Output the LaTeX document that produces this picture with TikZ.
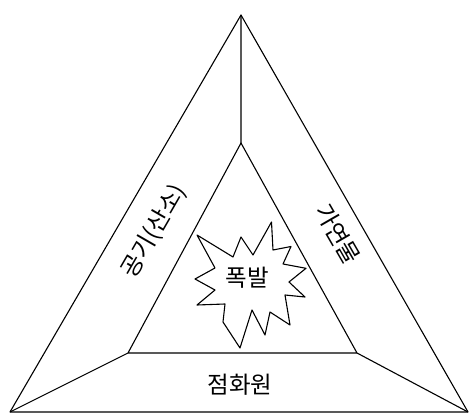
\documentclass[tikz,border=0pt]{standalone}
\usepackage{fontspec}
\newfontfamily\kr{Noto Sans CJK KR}
\begin{document}
\begin{tikzpicture}[x=1pt,y=-1pt,
  edge/.style={line width=1.1pt, line join=round},
  lbl/.style={font=\kr\fontsize{23.5}{28}\selectfont, inner sep=0pt}]
\useasboundingbox (0,0) rectangle (472,414);
\fill[white] (0,0) rectangle (472,414);
\coordinate (OA) at (241,15);
\coordinate (OL) at (10,412);
\coordinate (OR) at (468,412);
\coordinate (IA) at (241,143);
\coordinate (IL) at (128,353);
\coordinate (IR) at (357,353);
\draw[edge] (OA) -- (OL) -- (OR) -- cycle;
\draw[edge] (IA) -- (IL) -- (IR) -- cycle;
\draw[edge] (OA) -- (IA) (OL) -- (IL) (OR) -- (IR);
\draw[edge] (197,235) -- (233,257) -- (241,237) -- (253,255) -- (271.5,222) -- (273,250)
  -- (291,246.5) -- (283,264) -- (306,268.3) -- (289,282) -- (305,297) -- (285,295)
  -- (290,325) -- (270,312) -- (265,335) -- (252,310) -- (240,348) -- (223,322)
  -- (225,304) -- (197,305) -- (215,290) -- (195,279) -- (215,268) -- cycle;
\node[lbl] (boom) at (247,278) {폭발};
\node[lbl] (fire) at (240,385) {점화원};
\node[lbl, rotate=60] (air) at (154,231) {공기(산소)};
\node[lbl, rotate=-60] (fuel) at (338,234) {가연물};
\end{tikzpicture}
\end{document}
